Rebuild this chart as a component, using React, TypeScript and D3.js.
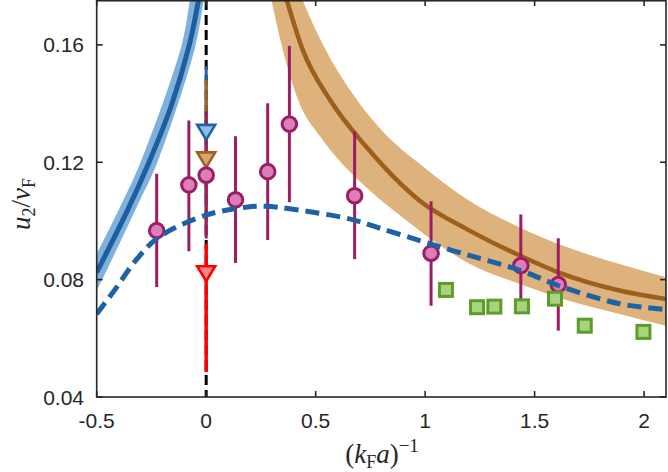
import React from "react";
import * as d3 from "d3";

// ---------- data ----------
const xTicks = [-0.5, 0, 0.5, 1, 1.5, 2];
const xTickLabels = ["-0.5", "0", "0.5", "1", "1.5", "2"];
const yTicks = [0.04, 0.08, 0.12, 0.16];
const yTickLabels = ["0.04", "0.08", "0.12", "0.16"];

// experimental points (pink circles)
const circleX = [-0.226, -0.079, 0.0, 0.134, 0.281, 0.38, 0.678, 1.027, 1.437, 1.608];
const circleY = [0.0967, 0.1123, 0.1156, 0.1072, 0.1168, 0.133, 0.1086, 0.089, 0.0848, 0.0783];
const circleLo = [0.0775, 0.0897, 0.094, 0.0857, 0.0935, 0.1064, 0.087, 0.0711, 0.0705, 0.0626];
const circleHi = [0.1161, 0.1342, 0.1374, 0.1289, 0.1401, 0.1597, 0.1305, 0.1067, 0.1022, 0.0941];

// green squares
const squareX = [1.095, 1.237, 1.316, 1.442, 1.593, 1.729, 1.997];
const squareY = [0.0765, 0.0706, 0.0708, 0.0709, 0.0735, 0.0643, 0.0622];

// unitary-point markers at x = 0
const tri = ["blue", "brown", "red"];
const triY = [0.1302, 0.1208, 0.082];
const triLo = [0.108, 0.095, 0.0485];
const triHi = [0.1527, 0.148, 0.0922];

// blue (BCS side) curve and band
const blueLineX = [-0.5, -0.36, -0.261, -0.161, -0.077, -0.035];
const blueLineY = [0.0825, 0.1035, 0.12, 0.1389, 0.16, 0.1753];
const blueUpX = [-0.5, -0.398, -0.3, -0.112, -0.075];
const blueUpY = [0.0888, 0.104, 0.12, 0.16, 0.1753];
const blueLowX = [-0.5, -0.458, -0.322, -0.223, -0.048, -0.012];
const blueLowY = [0.0763, 0.0826, 0.104, 0.12, 0.16, 0.1753];

// brown (BEC side) curve and band
const brownLineX = [0.368, 0.441, 0.565, 0.74, 0.975, 1.203, 1.432, 1.608, 1.888, 2.1];
const brownLineY = [0.1753, 0.1583, 0.1413, 0.1245, 0.1069, 0.0967, 0.0882, 0.0825, 0.0763, 0.0734];
const brownUpX = [0.44, 0.52, 0.656, 0.8, 1.0, 1.2, 1.432, 1.65, 1.888, 2.1];
const brownUpY = [0.1753, 0.162, 0.1447, 0.131, 0.118, 0.107, 0.0978, 0.091, 0.0853, 0.0808];
const brownLowX = [0.298, 0.35, 0.42, 0.533, 0.732, 0.9, 1.036, 1.2, 1.432, 1.65, 1.888, 2.1];
const brownLowY = [0.1753, 0.1583, 0.1413, 0.1276, 0.1114, 0.101, 0.0933, 0.0855, 0.0785, 0.073, 0.0683, 0.0643];

// dashed theory curve
const dashX = [-0.5, -0.412, -0.32, -0.214, 0, 0.183, 0.27, 0.396, 0.654, 0.791, 0.975, 1.125, 1.437, 1.608, 1.888, 2.1];
const dashY = [0.0683, 0.0771, 0.0867, 0.0946, 0.102, 0.1047, 0.105, 0.104, 0.1007, 0.0976, 0.0933, 0.0899, 0.0831, 0.078, 0.0718, 0.0698];

// ---------- styling ----------
const W = 668;
const H = 472;
const L = 96.7;
const R = 666;
const T = 0;
const B = 397;
const AX = "#262626";
const FONT = "'Liberation Sans', Arial, Helvetica, sans-serif";
const SERIF = "'Liberation Serif', 'DejaVu Serif', serif";

const triColors: Record<string, { stroke: string; fill: string }> = {
  blue: { stroke: "#1f62a3", fill: "#8fbbe2" },
  brown: { stroke: "#a0621f", fill: "#d9a76c" },
  red: { stroke: "#ff0000", fill: "#f28888" },
};

export default function App() {
  const x = d3.scaleLinear().domain([-0.5, 2.1]).range([L, R]);
  const y = d3.scaleLinear().domain([0.04, 0.1753]).range([B, T]);

  const pts = (xs: number[], ys: number[]) => xs.map((v, i) => [v, ys[i]] as [number, number]);
  const mono = d3
    .line<[number, number]>()
    .x((d) => x(d[0]))
    .y((d) => y(d[1]))
    .curve(d3.curveMonotoneX);
  const cr = d3
    .line<[number, number]>()
    .x((d) => x(d[0]))
    .y((d) => y(d[1]))
    .curve(d3.curveCatmullRom.alpha(0.5));

  const band = (gen: typeof mono, ux: number[], uy: number[], lx: number[], ly: number[]) => {
    const up = gen(pts(ux, uy)) || "";
    const low = gen(pts(lx, ly).reverse()) || "";
    return up + "L" + low.slice(1) + "Z";
  };

  const triPath = "M-9,-7.5L9,-7.5L0,7.5Z";

  return (
    <div style={{ position: "absolute", left: 0, top: 0 }}>
      <svg width={W} height={H} style={{ display: "block", background: "#fff" }}>
        <defs>
          <clipPath id="plot">
            <rect x={L} y={T} width={R - L} height={B - T} />
          </clipPath>
        </defs>
        <rect x={0} y={0} width={W} height={H} fill="#fff" />
        <g clipPath="url(#plot)">
          {/* bands */}
          <path d={band(mono, brownUpX, brownUpY, brownLowX, brownLowY)} fill="#deb27c" />
          <path d={band(cr, blueUpX, blueUpY, blueLowX, blueLowY)} fill="#80b1dd" />
          {/* solid curves */}
          <path d={mono(pts(brownLineX, brownLineY)) || ""} fill="none" stroke="#9c5f1c" strokeWidth={4.5} />
          <path d={cr(pts(blueLineX, blueLineY)) || ""} fill="none" stroke="#1d5f9e" strokeWidth={5} />
          {/* vertical dashed line at unitarity */}
          <line x1={x(0)} x2={x(0)} y1={T} y2={B} stroke="#000" strokeWidth={3} strokeDasharray="10 5" />
          {/* error bars at x = 0 for the triangles */}
          {tri.map((c, i) => (
            <line key={"tb" + c} x1={x(0)} x2={x(0)} y1={y(triHi[i])} y2={y(triLo[i])} stroke={triColors[c].stroke} strokeWidth={3} />
          ))}
          {/* error bars for circles */}
          {circleX.map((cx, i) => (
            <line key={"cb" + i} x1={x(cx)} x2={x(cx)} y1={y(circleHi[i])} y2={y(circleLo[i])} stroke="#9b1d62" strokeWidth={3} />
          ))}
          {/* red bar over magenta at x=0 */}
          <line x1={x(0)} x2={x(0)} y1={y(triHi[2])} y2={y(triLo[2])} stroke="#ff0000" strokeWidth={3} />
          {/* triangles */}
          {tri.map((c, i) => (
            <path
              key={"t" + c}
              d={triPath}
              transform={`translate(${x(0)},${y(triY[i])})`}
              fill={triColors[c].fill}
              stroke={triColors[c].stroke}
              strokeWidth={2.6}
            />
          ))}
          {/* circles */}
          {circleX.map((cx, i) => (
            <circle key={"c" + i} cx={x(cx)} cy={y(circleY[i])} r={7.3} fill="#dc7fb9" stroke="#9b1d62" strokeWidth={3} />
          ))}
          {/* squares */}
          {squareX.map((sx, i) => (
            <rect
              key={"s" + i}
              x={x(sx) - 6.5}
              y={y(squareY[i]) - 6.5}
              width={13}
              height={13}
              fill="#a9d47f"
              stroke="#5c9c2a"
              strokeWidth={3}
            />
          ))}
          {/* dashed theory line */}
          <path d={cr(pts(dashX, dashY)) || ""} fill="none" stroke="#1f62a3" strokeWidth={5} strokeDasharray="14 7" />
        </g>

        {/* axes box */}
        <rect x={L} y={T + 0.75} width={R - L} height={B - T - 0.75} fill="none" stroke={AX} strokeWidth={1.6} />
        {xTicks.map((t) => (
          <g key={"xt" + t}>
            <line x1={x(t)} x2={x(t)} y1={B} y2={B - 6} stroke={AX} strokeWidth={1.6} />
            <line x1={x(t)} x2={x(t)} y1={T} y2={T + 6} stroke={AX} strokeWidth={1.6} />
          </g>
        ))}
        {yTicks.map((t) => (
          <g key={"yt" + t}>
            <line x1={L} x2={L + 6} y1={y(t)} y2={y(t)} stroke={AX} strokeWidth={1.6} />
            <line x1={R} x2={R - 6} y1={y(t)} y2={y(t)} stroke={AX} strokeWidth={1.6} />
          </g>
        ))}
        {xTicks.map((t, i) => (
          <text key={"xl" + t} x={x(t)} y={428} textAnchor="middle" fontFamily={FONT} fontSize={21} fill={AX}>
            {xTickLabels[i]}
          </text>
        ))}
        {yTicks.map((t, i) => (
          <text key={"yl" + t} x={84} y={y(t) + 7.5} textAnchor="end" fontFamily={FONT} fontSize={21} fill={AX}>
            {yTickLabels[i]}
          </text>
        ))}

        {/* axis labels */}
        <text x={382} y={463} textAnchor="middle" fontFamily={SERIF} fontSize={27} fill={AX}>
          (<tspan fontStyle="italic">k</tspan>
          <tspan fontSize={18} dy={5}>F</tspan>
          <tspan fontStyle="italic" dy={-5}>a</tspan>)
          <tspan fontSize={19} dy={-11}>−1</tspan>
        </text>
        <text transform="translate(30,204) rotate(-90)" textAnchor="middle" fontFamily={SERIF} fontSize={27} fill={AX}>
          <tspan fontStyle="italic">u</tspan>
          <tspan fontSize={18} dy={5}>2</tspan>
          <tspan dy={-5}>/</tspan>
          <tspan fontStyle="italic">v</tspan>
          <tspan fontSize={18} dy={5}>F</tspan>
        </text>
      </svg>
    </div>
  );
}
